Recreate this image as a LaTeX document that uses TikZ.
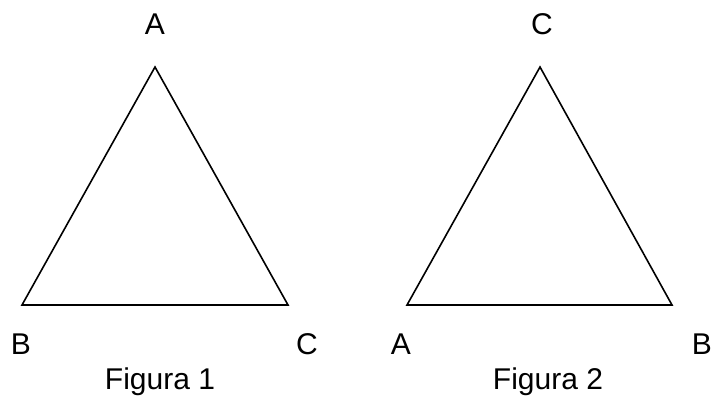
\documentclass[tikz,border=0pt]{standalone}
\usepackage{fontspec}
\setmainfont{Liberation Sans}
\begin{document}
\begin{tikzpicture}[x=1pt,y=-1pt,
  lbl/.style={anchor=base,inner sep=0pt,font=\fontsize{30}{36}\selectfont},
  tri/.style={draw=black,line width=1.6pt,line join=miter}]
\useasboundingbox (0,0) rectangle (712,398);
% Figura 1
\coordinate (t1a) at (155,67);
\coordinate (t1b) at (22,305);
\coordinate (t1c) at (288,305);
\draw[tri] (t1a) -- (t1b) -- (t1c) -- cycle;
\node[lbl] (l1a) at (155,35) {A};
\node[lbl] (l1b) at (21,354) {B};
\node[lbl] (l1c) at (307,354) {C};
\node[lbl] (cap1) at (160,389) {Figura 1};
% Figura 2
\coordinate (t2c) at (540,67);
\coordinate (t2a) at (407,305);
\coordinate (t2b) at (672,305);
\draw[tri] (t2c) -- (t2a) -- (t2b) -- cycle;
\node[lbl] (l2c) at (542,35) {C};
\node[lbl] (l2a) at (401,354) {A};
\node[lbl,anchor=base east] (l2b) at (712,354) {B};
\node[lbl] (cap2) at (548,389) {Figura 2};
\end{tikzpicture}
\end{document}
